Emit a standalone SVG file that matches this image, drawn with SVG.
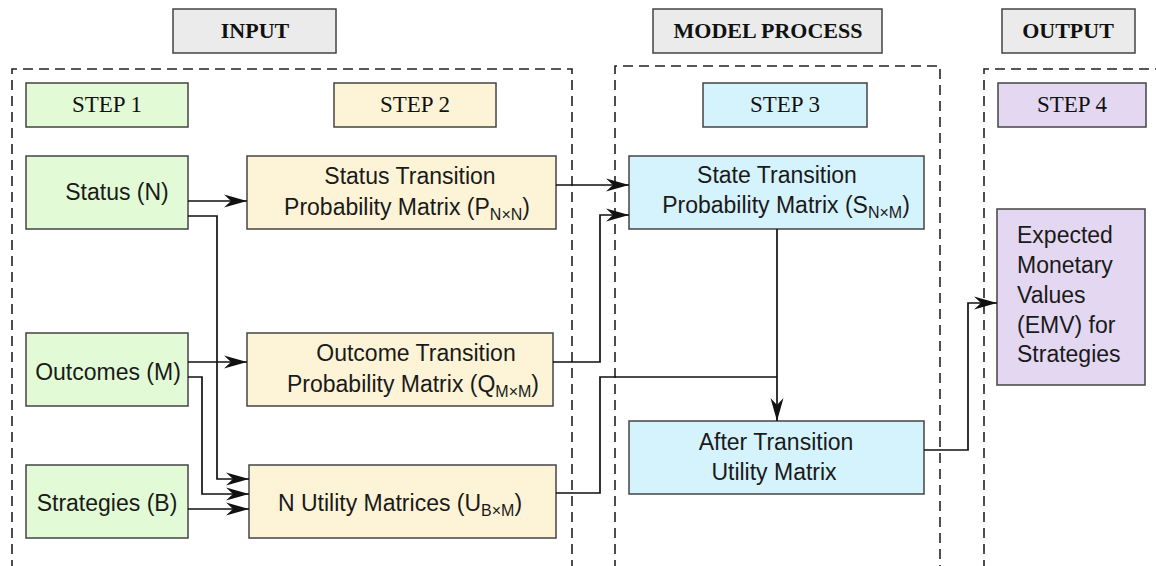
<svg xmlns="http://www.w3.org/2000/svg" width="1156" height="566" viewBox="0 0 1156 566">
<style>
.hdr{fill:#ebebeb;stroke:#444;stroke-width:1.5}
.g{fill:#e2fad6;stroke:#444;stroke-width:1.5}
.y{fill:#fdf4d7;stroke:#444;stroke-width:1.5}
.b{fill:#d5f3fc;stroke:#444;stroke-width:1.5}
.p{fill:#e3d7f1;stroke:#444;stroke-width:1.5}
.region{fill:none;stroke:#222;stroke-width:1.6;stroke-dasharray:10 6}
.ht{font-family:"Liberation Serif",serif;font-weight:bold;font-size:22px;fill:#111;text-anchor:middle}
.st{font-family:"Liberation Serif",serif;font-size:23px;fill:#111;text-anchor:middle}
.t{font-family:"Liberation Sans",Arial,sans-serif;font-size:23px;fill:#1a1a1a;text-anchor:middle}
.tl{font-family:"Liberation Sans",Arial,sans-serif;font-size:23px;fill:#1a1a1a}
.sub{font-size:16px}
.c{fill:none;stroke:#111;stroke-width:1.7}
</style>
<defs>
<marker id="ah" markerUnits="userSpaceOnUse" markerWidth="24" markerHeight="16" refX="23" refY="8" orient="auto">
<path d="M0,1.5 L23,8 L0,14.5 L7,8 z" fill="#111"/>
</marker>
</defs>
<rect width="1156" height="566" fill="#fff"/>

<g id="regions">
<path class="region" d="M12,570 V69 H572 V570"/>
<path class="region" d="M615,570 V66 H940 V570"/>
<path class="region" d="M984,570 V69 H1160"/>
</g>

<g id="hdr-input"><rect class="hdr" x="173" y="9" width="163" height="44"/><text class="ht" x="255" y="38">INPUT</text></g>
<g id="hdr-model"><rect class="hdr" x="653" y="9" width="229" height="44"/><text class="ht" x="768" y="38">MODEL PROCESS</text></g>
<g id="hdr-output"><rect class="hdr" x="1002" y="9" width="133" height="44"/><text class="ht" x="1068" y="38">OUTPUT</text></g>

<g id="step1"><rect class="g" x="26" y="83" width="162" height="44"/><text class="st" x="107" y="112">STEP 1</text></g>
<g id="step2"><rect class="y" x="334" y="83" width="162" height="44"/><text class="st" x="415" y="112">STEP 2</text></g>
<g id="step3"><rect class="b" x="703" y="83" width="164" height="44"/><text class="st" x="785" y="112">STEP 3</text></g>
<g id="step4"><rect class="p" x="998" y="83" width="148" height="44"/><text class="st" x="1072" y="112">STEP 4</text></g>

<g id="status"><rect class="g" x="26" y="156" width="162" height="73"/><text class="t" x="117" y="200">Status (N)</text></g>
<g id="outcomes"><rect class="g" x="26" y="333" width="162" height="73"/><text class="t" x="108" y="380">Outcomes (M)</text></g>
<g id="strategies"><rect class="g" x="26" y="465" width="162" height="73"/><text class="t" x="107" y="511">Strategies (B)</text></g>

<g id="status-tpm"><rect class="y" x="247" y="156" width="309" height="73"/>
<text class="t" x="410" y="184">Status Transition</text>
<text class="t" x="407" y="215">Probability Matrix (P<tspan class="sub" dy="5">N×N</tspan><tspan dy="-5">)</tspan></text></g>
<g id="outcome-tpm"><rect class="y" x="247" y="333" width="306" height="73"/>
<text class="t" x="416" y="361">Outcome Transition</text>
<text class="t" x="413" y="392">Probability Matrix (Q<tspan class="sub" dy="5">M×M</tspan><tspan dy="-5">)</tspan></text></g>
<g id="utility"><rect class="y" x="249" y="465" width="307" height="73"/>
<text class="t" x="400" y="511">N Utility Matrices (U<tspan class="sub" dy="5">B×M</tspan><tspan dy="-5">)</tspan></text></g>

<g id="state-tpm"><rect class="b" x="629" y="156" width="295" height="73"/>
<text class="t" x="777" y="183">State Transition</text>
<text class="t" x="786" y="213">Probability Matrix (S<tspan class="sub" dy="5">N×M</tspan><tspan dy="-5">)</tspan></text></g>
<g id="after"><rect class="b" x="629" y="421" width="295" height="73"/>
<text class="t" x="776" y="450">After Transition</text>
<text class="t" x="774" y="480">Utility Matrix</text></g>

<g id="emv"><rect class="p" x="997" y="209" width="148" height="176"/>
<text class="tl" x="1017" y="243">Expected</text>
<text class="tl" x="1017" y="273">Monetary</text>
<text class="tl" x="1017" y="303">Values</text>
<text class="tl" x="1017" y="333">(EMV) for</text>
<text class="tl" x="1017" y="362">Strategies</text></g>

<g id="connectors">
<path class="c" d="M188,201 H247" marker-end="url(#ah)"/>
<path class="c" d="M188,216 H217 V479 H249" marker-end="url(#ah)"/>
<path class="c" d="M188,362 H247" marker-end="url(#ah)"/>
<path class="c" d="M188,377 H202 V494 H249" marker-end="url(#ah)"/>
<path class="c" d="M188,509 H249" marker-end="url(#ah)"/>
<path class="c" d="M556,185 H629" marker-end="url(#ah)"/>
<path class="c" d="M553,362 H600 V215 H629" marker-end="url(#ah)"/>
<path class="c" d="M556,493 H600 V377 H777"/>
<path class="c" d="M777,229 V421" marker-end="url(#ah)"/>
<path class="c" d="M924,450 H968 V303 H997" marker-end="url(#ah)"/>
</g>
</svg>
